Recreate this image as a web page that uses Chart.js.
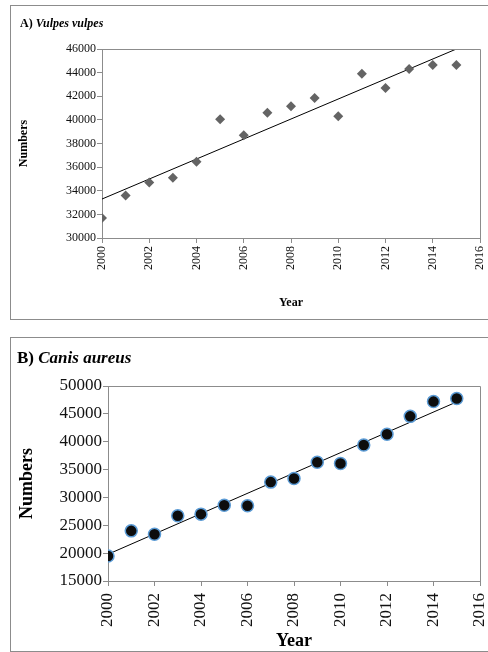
<!DOCTYPE html>
<html>
<head>
<meta charset="utf-8">
<script src="https://cdn.jsdelivr.net/npm/chart.js@4/dist/chart.umd.min.js"></script>
<style>
  html, body { margin: 0; padding: 0; background: #fff; overflow: hidden; }
  body { width: 488px; height: 652px; position: relative; font-family: "Liberation Serif", serif; }
  .panel { position: absolute; left: 10px; width: 478px; border: 1px solid #8c8c8c; border-right: none; background: #fff; }
  .panel canvas { position: absolute; left: 0; top: 0; }
  .title { position: absolute; font-weight: bold; color: #000; white-space: nowrap; z-index: 2; }
</style>
</head>
<body>
<div class="panel" id="pa" style="top:5px;height:313px">
  <div class="title" style="left:9px;top:10px;font-size:12px">A) <i>Vulpes vulpes</i></div>
  <canvas id="chartA"></canvas>
</div>
<div class="panel" id="pb" style="top:337px;height:313px">
  <div class="title" style="left:6px;top:10px;font-size:17px">B) <i>Canis aureus</i></div>
  <canvas id="chartB"></canvas>
</div>
<script>
const YEARS = [2000, 2001, 2002, 2003, 2004, 2005, 2006, 2007, 2008, 2009, 2010, 2011, 2012, 2013, 2014, 2015]

// A) Vulpes vulpes
const FOX = [31700, 33600, 34700, 35100, 36450, 40050, 38700, 40600, 41150, 41850, 40300, 43900, 42700, 44300, 44650, 44650]
const FOX_TREND_YEARS = [2000, 2015]
const FOX_TREND = [33300, 46000]

// B) Canis aureus
const JACKAL = [19500, 24000, 23400, 26700, 27000, 28600, 28500, 32750, 33400, 36300, 36100, 39400, 41350, 44550, 47200, 47750]
const JACKAL_TREND_YEARS = [2000, 2015]
const JACKAL_TREND = [19800, 47150]

const FONT = "Liberation Serif"
const AXIS = "#8c8c8c"

// top and right edges of the plot box
const frame = {
  id: "frame",
  afterDatasetsDraw(chart) {
    const a = chart.chartArea
    const ctx = chart.ctx
    ctx.save()
    ctx.strokeStyle = AXIS
    ctx.lineWidth = 1
    ctx.beginPath()
    ctx.moveTo(a.left, a.top + 0.5)
    ctx.lineTo(a.right + 0.5, a.top + 0.5)
    ctx.lineTo(a.right + 0.5, a.bottom)
    ctx.stroke()
    ctx.restore()
  }
}

const pts = (xs, ys) => xs.map((x, i) => ({ x, y: ys[i] }))

function makeChart(id, o) {
  const canvas = document.getElementById(id)
  canvas.width = 478
  canvas.height = 313
  canvas.style.width = "478px"
  canvas.style.height = "313px"
  return new Chart(canvas, {
    type: "scatter",
    data: {
      datasets: [
        {
          data: pts(YEARS, o.values),
          pointStyle: o.pointStyle,
          pointRadius: o.radius,
          backgroundColor: o.fill,
          borderColor: o.stroke,
          borderWidth: o.strokeWidth,
          order: 1,
        },
        {
          type: "line",
          data: pts(o.trendYears, o.trend),
          borderColor: "#000",
          borderWidth: 1,
          pointRadius: 0,
          fill: false,
          order: 2,
        },
      ],
    },
    plugins: [frame],
    options: {
      responsive: false,
      animation: false,
      devicePixelRatio: 1,
      layout: { padding: { left: 0, top: o.top, right: 478 - 469, bottom: 0 } },
      plugins: { legend: { display: false }, tooltip: { enabled: false } },
      scales: {
        x: {
          type: "linear",
          min: 2000,
          max: 2016,
          afterFit: (s) => { s.height = o.xHeight; s.paddingLeft = 0; s.paddingRight = 0 },
          border: { color: AXIS, width: 1 },
          grid: { drawOnChartArea: false, color: AXIS, tickLength: 5 },
          ticks: {
            stepSize: 2,
            minRotation: 90,
            maxRotation: 90,
            padding: o.xPad,
            color: "#111",
            font: { family: FONT, size: o.tick },
            callback: (v) => String(v),
          },
          title: {
            display: true,
            text: "Year",
            color: "#000",
            font: { family: FONT, size: o.label, weight: "bold", lineHeight: 1.1 },
            padding: { top: 0, bottom: o.yearPad },
          },
        },
        y: {
          min: o.min,
          max: o.max,
          afterFit: (s) => { s.width = o.yWidth; s.paddingTop = 0; s.paddingBottom = 0 },
          border: { color: AXIS, width: 1 },
          grid: { drawOnChartArea: false, color: AXIS, tickLength: 5 },
          ticks: {
            stepSize: o.step,
            padding: 1,
            color: "#111",
            font: { family: FONT, size: o.tick },
            callback: (v) => String(v),
          },
          title: {
            display: true,
            text: "Numbers",
            color: "#000",
            font: { family: FONT, size: o.label, weight: "bold", lineHeight: 1.1 },
            padding: { top: o.numPad, bottom: 0 },
          },
        },
      },
    },
  })
}

makeChart("chartA", {
  values: FOX, trendYears: FOX_TREND_YEARS, trend: FOX_TREND,
  pointStyle: "rectRot", radius: 5, fill: "#646464", stroke: "#646464", strokeWidth: 0,
  min: 30000, max: 46000, step: 2000,
  top: 43, yWidth: 91, xHeight: 81, xPad: 3,
  tick: 12, label: 12, yearPad: 9, numPad: 6,
})

makeChart("chartB", {
  values: JACKAL, trendYears: JACKAL_TREND_YEARS, trend: JACKAL_TREND,
  pointStyle: "circle", radius: 6, fill: "#0d0d0d", stroke: "#5b9bd5", strokeWidth: 1.5,
  min: 15000, max: 50000, step: 5000,
  top: 48, yWidth: 97, xHeight: 70, xPad: 7,
  tick: 17, label: 18, yearPad: 0, numPad: 6,
})
</script>
</body>
</html>
